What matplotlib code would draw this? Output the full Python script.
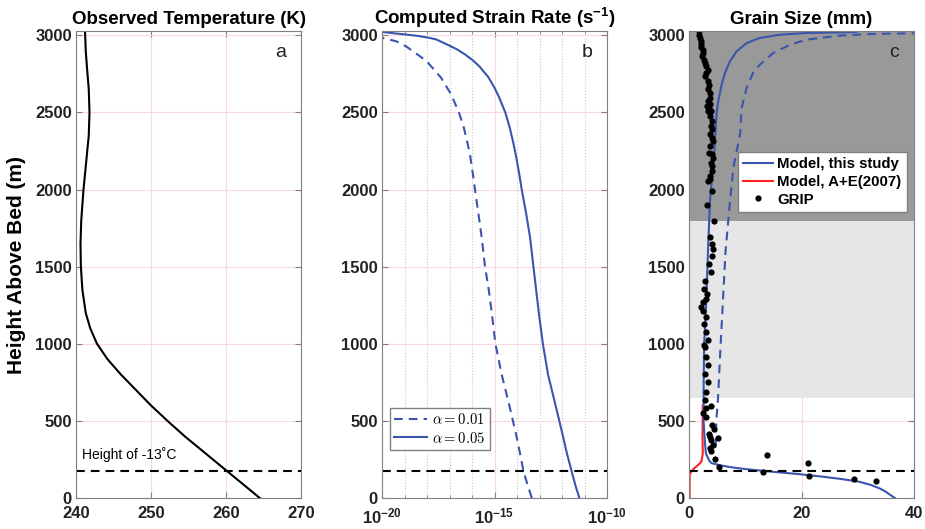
import numpy as np
import matplotlib
matplotlib.use("Agg")
import matplotlib.pyplot as plt
from matplotlib.lines import Line2D

# panel a: observed temperature profile
temp_height = [0, 100, 172, 300, 400, 500, 600, 700, 800, 900, 1000, 1100, 1200, 1350,
               1500, 1650, 1800, 2000, 2200, 2350, 2500, 2650, 2800, 2900, 3028]
temp_K = [264.5, 262.0, 260.2, 257.0, 254.5, 252.2, 250.0, 248.0, 246.0, 244.2, 242.8,
          241.9, 241.3, 240.85, 240.65, 240.6, 240.7, 241.0, 241.4, 241.7, 241.8, 241.7,
          241.45, 241.3, 241.2]

# panel b: computed strain rate, stored as log10 of s^-1
rate_height_05 = [0, 80, 172, 300, 440, 633, 800, 1000, 1200, 1350, 1500, 1690, 1850, 2000,
                  2100, 2200, 2300, 2400, 2500, 2600, 2660, 2730, 2800, 2840, 2875, 2910,
                  2942, 2974, 2985, 2996, 3006, 3012, 3021, 3028]
rate_exp_05 = [-11.23, -11.4, -11.57, -11.8, -12.02, -12.34, -12.62, -12.85, -13.03, -13.15,
               -13.27, -13.42, -13.6, -13.79, -13.9, -14.02, -14.16, -14.32, -14.52, -14.8,
               -15.0, -15.28, -15.68, -15.98, -16.3, -16.68, -17.13, -17.6, -17.95, -18.4,
               -19.0, -19.4, -19.96, -21.0]
rate_height_01 = [0, 80, 172, 300, 400, 612, 800, 1000, 1151, 1345, 1500, 1690, 1850, 2002,
                  2100, 2228, 2300, 2400, 2500, 2618, 2726, 2833, 2897, 2930, 2961, 2983,
                  2990, 3010]
rate_exp_01 = [-13.34, -13.52, -13.71, -13.88, -14.02, -14.36, -14.68, -14.96, -15.08,
               -15.25, -15.42, -15.57, -15.72, -15.87, -15.96, -16.09, -16.2, -16.36,
               -16.58, -16.93, -17.38, -18.02, -18.62, -18.95, -19.36, -19.96, -20.2, -21.0]
rate_labels = [r"$\alpha = 0.01$", r"$\alpha = 0.05$"]

# panel c: grain size (mm)
gs_height = [0, 22, 45, 62, 85, 105, 122, 138, 155, 170, 182, 192, 201, 213, 226, 242, 258,
             289, 400, 500, 750, 1000, 1300, 1625, 1927, 2250, 2498, 2573, 2681, 2757, 2832,
             2896, 2950, 2983, 3004, 3015, 3021]
gs_model = [36.6, 35.7, 34.8, 33.9, 32.3, 30.3, 27.3, 23.8, 19.5, 14.9, 11.5, 9.0, 7.2, 5.45,
            4.0, 3.6, 3.4, 3.0, 2.75, 2.6, 2.6, 2.7, 3.1, 3.4, 3.73, 4.5, 4.92, 5.2, 5.81,
            6.4, 7.29, 8.47, 10.25, 12.6, 16.2, 20.9, 29.8]
gs_height_dash = [330, 500, 650, 1000, 1603, 1927, 2143, 2358, 2530, 2659, 2757, 2810, 2886,
                  2940, 2972, 2998, 3009, 3013, 3016]
gs_model_dash = [4.74, 4.86, 5.16, 5.63, 6.5, 7.3, 7.9, 9.07, 9.36, 10.25, 11.4, 12.6, 15.0,
                 18.0, 20.9, 26.8, 32.7, 39.8, 42.0]
ae_height = [0, 155, 185, 213, 236, 289, 400, 600]
ae_model = [0.1, 0.12, 0.7, 1.6, 2.2, 2.45, 2.4, 2.45]

grip_size = [1.7, 1.8, 1.95, 2.05, 2.2, 2.15, 2.4, 2.5, 2.3, 2.6, 2.85, 3.0, 3.3, 3.1, 2.9,
             3.4, 3.6, 3.3, 3.7, 3.8, 3.4, 3.7, 3.5, 3.85,
             3.14, 3.44, 3.73, 4.03, 3.91, 4.03, 3.73, 4.03, 4.33, 3.73, 3.56, 4.03, 4.33,
             3.91, 4.15, 4.03, 3.79, 3.73, 3.44, 4.03, 3.14, 4.5, 3.73, 4.03, 4.33,
             4.15, 3.56, 3.85, 2.84, 2.73, 3.14, 2.96, 2.55, 2.07, 2.55, 2.96, 2.73, 2.96,
             3.44, 2.73, 2.79, 3.08, 3.38, 2.79, 3.38, 3.08, 2.79, 3.97, 2.96, 2.49, 3.08,
             4.15, 4.39, 3.56, 3.79, 5.16, 3.97, 4.27, 3.67, 3.85, 4.56, 5.33,
             13.9, 21.2, 13.2, 21.3, 29.3, 33.2]
grip_height = [3026, 3004, 2983, 2966, 2944, 2923, 2908, 2886, 2865, 2843, 2821, 2800, 2778,
               2757, 2735, 2702, 2681, 2649, 2627, 2595, 2573, 2552, 2530, 2509,
               2541, 2509, 2476, 2444, 2412, 2390, 2358, 2336, 2315, 2283, 2239, 2228, 2207,
               2175, 2153, 2121, 2089, 2067, 2056, 1991, 1901, 1793, 1690, 1647, 1614,
               1571, 1517, 1463, 1409, 1356, 1323, 1291, 1269, 1241, 1215, 1172, 1125, 1075,
               1022, 989, 978, 914, 860, 806, 752, 687, 634, 595, 586, 552, 522,
               472, 450, 418, 397, 386, 375, 343, 321, 306, 256, 198,
               278, 224, 170, 144, 123, 112]

dark_zone = (1793, 3028)
light_zone = (648, 1793)
minus13_height = 172

BLUE = "#3a55ad"
RED = "#ff2020"
GRID = "#fbd7e0"
SPINE = "#808080"

plt.rcParams["font.family"] = ["Liberation Sans", "DejaVu Sans"]
plt.rcParams["font.weight"] = "bold"
plt.rcParams["mathtext.fontset"] = "custom"
plt.rcParams["mathtext.rm"] = "Liberation Sans"
plt.rcParams["mathtext.it"] = "Liberation Sans:italic"
plt.rcParams["mathtext.bf"] = "Liberation Sans:bold"


def style_axis(ax):
    ax.set_ylim(0, 3028)
    ax.set_yticks([0, 500, 1000, 1500, 2000, 2500, 3000])
    ax.set_axisbelow(True)
    ax.grid(True, which="major", color=GRID, lw=0.8)
    for s in ax.spines.values():
        s.set_color(SPINE)
        s.set_linewidth(0.8)
    ax.tick_params(which="major", direction="in", length=4, width=0.8, color=SPINE,
                   top=True, right=True, labelsize=12, labelcolor="#222222", pad=3)
    ax.tick_params(axis="x", which="major", pad=6)
    ax.tick_params(which="minor", direction="in", length=2, width=0.6, color=SPINE,
                   top=True, right=True)


def main():
    fig = plt.figure(figsize=(9.25, 5.29), dpi=100)
    lefts = [76 / 925, 382 / 925, 689 / 925]
    axes = [fig.add_axes([l, 0.0586, 225 / 925, 0.8828]) for l in lefts]
    ax1, ax2, ax3 = axes
    dash = (4.2, 2.9)

    # a
    ax1.plot(temp_K, temp_height, color="black", lw=1.5)
    ax1.axhline(minus13_height, color="black", lw=1.5, ls=(0, dash))
    ax1.set_xlim(240, 270)
    ax1.set_xticks([240, 250, 260, 270])
    ax1.text(240.8, 280, "Height of -13˚C", fontsize=10, fontweight="normal", va="center")
    ax1.set_title("Observed Temperature (K)", fontsize=13.5, fontweight="bold", pad=5)
    ax1.set_ylabel("Height Above Bed (m)", fontsize=15, fontweight="bold")
    ax1.yaxis.set_label_coords(-0.22, 0.5)

    # b
    ax2.set_xscale("log")
    ax2.plot(10.0 ** np.array(rate_exp_01), rate_height_01, color=BLUE, lw=1.5,
             ls=(0, dash), label=rate_labels[0])
    ax2.plot(10.0 ** np.array(rate_exp_05), rate_height_05, color=BLUE, lw=1.5,
             label=rate_labels[1])
    ax2.axhline(minus13_height, color="black", lw=1.5, ls=(0, dash))
    ax2.set_xlim(1e-20, 1e-10)
    ax2.set_xticks([1e-20, 1e-15, 1e-10],
                   labels=[r"$\mathbf{10^{-20}}$", r"$\mathbf{10^{-15}}$", r"$\mathbf{10^{-10}}$"])
    ax2.set_xticks([10.0 ** k for k in range(-19, -10) if k != -15], minor=True)
    ax2.xaxis.set_minor_formatter(plt.NullFormatter())
    ax2.grid(True, which="minor", axis="x", color="#c8c8c8", lw=0.8, ls=":")
    ax2.set_title(r"Computed Strain Rate (s$^{\mathbf{-1}}$)", fontsize=13.5,
                  fontweight="bold", pad=5)
    ax2.legend(loc="lower left", bbox_to_anchor=(0.036, 0.103), borderaxespad=0,
               prop={"size": 10.5, "weight": "normal", "math_fontfamily": "cm"},
               fancybox=False, framealpha=1, edgecolor="#808080", handlelength=2.2,
               handletextpad=0.4, borderpad=0.3, labelspacing=0.25)

    # c
    ax3.axhspan(*light_zone, color="#e6e6e6", lw=0, zorder=0.8)
    ax3.axhspan(*dark_zone, color="#999999", lw=0, zorder=0.8)
    ax3.plot(ae_model, ae_height, color=RED, lw=1.5)
    ax3.plot(gs_model_dash, gs_height_dash, color=BLUE, lw=1.5, ls=(0, dash))
    ax3.plot(gs_model, gs_height, color=BLUE, lw=1.5)
    ax3.plot(grip_size, grip_height, "o", color="black", ms=4.5, mew=0)
    ax3.axhline(minus13_height, color="black", lw=1.5, ls=(0, dash))
    ax3.set_xlim(0, 40)
    ax3.set_xticks([0, 20, 40])
    ax3.set_title("Grain Size (mm)", fontsize=13.5, fontweight="bold", pad=5)
    handles = [Line2D([], [], color=BLUE, lw=1.5),
               Line2D([], [], color=RED, lw=1.5),
               Line2D([], [], color="black", marker="o", ls="none", ms=4.5, mew=0)]
    ax3.legend(handles, ["Model, this study", "Model, A+E(2007)", "GRIP"],
               loc="upper right", bbox_to_anchor=(0.968, 0.741), borderaxespad=0,
               prop={"size": 10.8, "weight": "bold"}, fancybox=False, framealpha=1,
               edgecolor="#808080", handlelength=2.0, handletextpad=0.3,
               borderpad=0.35, labelspacing=0.25)

    for ax, letter in zip(axes, ["a", "b", "c"]):
        style_axis(ax)
        ax.text(0.91, 0.953, letter, transform=ax.transAxes, fontsize=14,
                fontweight="normal", ha="center", va="center", color="#222222")

    fig.savefig("out.png", dpi=100)


if __name__ == "__main__":
    main()
